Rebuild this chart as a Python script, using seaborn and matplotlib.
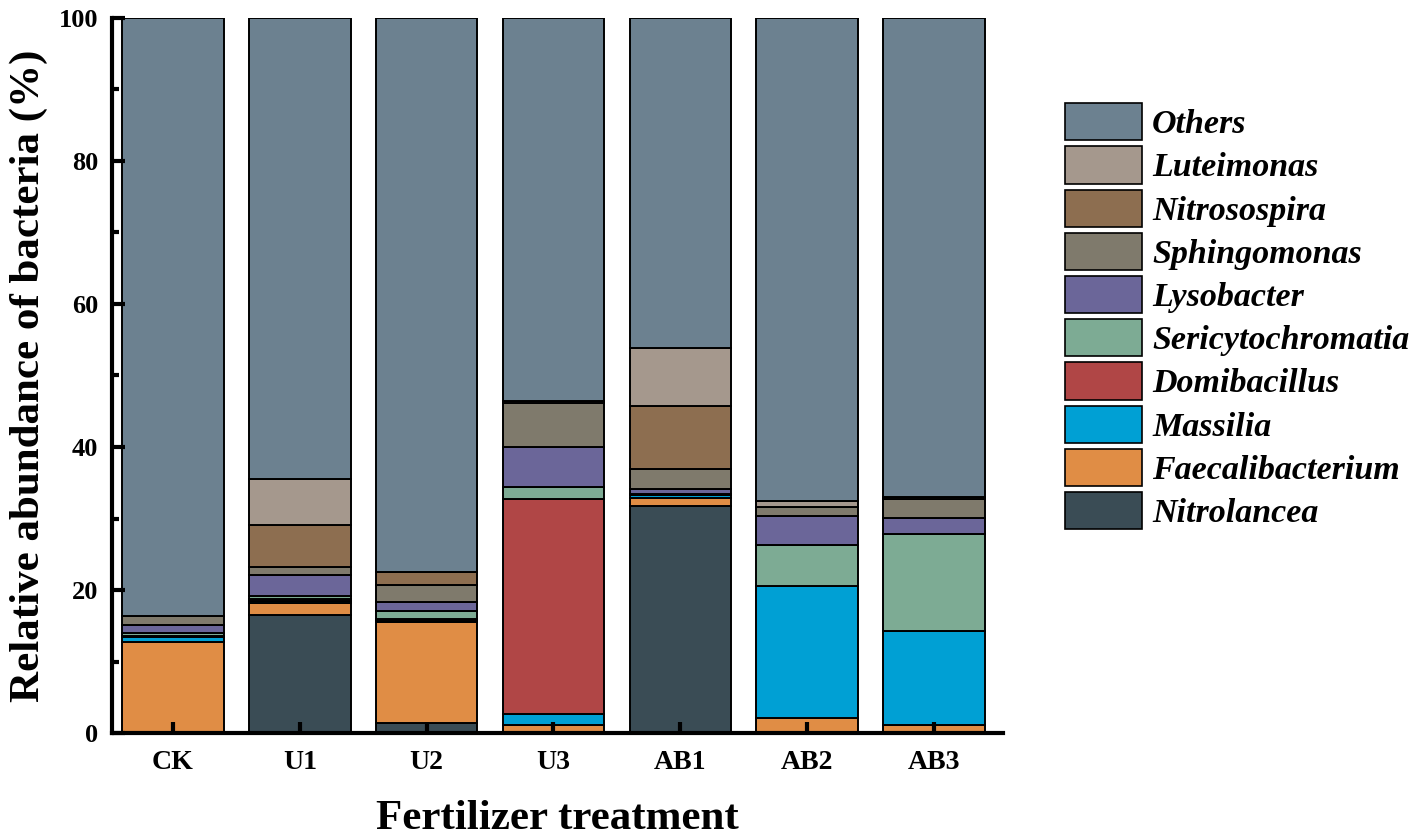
import numpy as np
import matplotlib
matplotlib.use("Agg")
from matplotlib import pyplot
from matplotlib.patches import Patch
import matplotlib.ticker as ticker
import seaborn as sns

# treatments along the x axis
treatments = ['CK', 'U1', 'U2', 'U3', 'AB1', 'AB2', 'AB3']

# relative abundance (%) per genus (bottom -> top)
nitrolancea       = [0.0, 16.5,  1.4,  0.0, 31.7,  0.0,  0.0]
faecalibacterium  = [12.7, 1.7, 14.2,  1.2,  1.2,  2.2,  1.1]
massilia          = [0.8,  0.3,  0.1,  1.5,  0.4, 18.4, 13.2]
domibacillus      = [0.1,  0.3,  0.2, 30.0,  0.0,  0.0,  0.0]
sericytochromatia = [0.4,  0.4,  1.2,  1.7,  0.2,  5.7, 13.6]
lysobacter        = [1.1,  2.9,  1.2,  5.6,  0.7,  4.0,  2.2]
sphingomonas      = [1.3,  1.1,  2.4,  6.2,  2.7,  1.3,  2.7]
nitrosospira      = [0.0,  5.9,  1.9,  0.2,  8.9,  0.0,  0.2]
luteimonas        = [0.0,  6.4,  0.0,  0.0,  8.1,  0.8,  0.0]
others            = [83.6, 64.5, 77.4, 53.6, 46.1, 67.6, 67.0]

genera = ['Nitrolancea', 'Faecalibacterium', 'Massilia', 'Domibacillus',
          'Sericytochromatia', 'Lysobacter', 'Sphingomonas', 'Nitrosospira',
          'Luteimonas', 'Others']
series = [nitrolancea, faecalibacterium, massilia, domibacillus,
          sericytochromatia, lysobacter, sphingomonas, nitrosospira,
          luteimonas, others]
colors = ['#3a4c55', '#e08d45', '#00a0d4', '#b04646', '#7dab94',
          '#6b6699', '#7f7a6c', '#8d6e50', '#a5988d', '#6c8190']

sns.set_style("ticks")
pyplot.rcParams['font.family'] = ['Liberation Serif', 'DejaVu Serif']
pyplot.rcParams['font.weight'] = 'bold'
pyplot.rcParams['text.color'] = 'black'
pyplot.rcParams['axes.labelcolor'] = 'black'
pyplot.rcParams['xtick.color'] = 'black'
pyplot.rcParams['ytick.color'] = 'black'

fig = pyplot.figure(figsize=(14.18, 8.39), dpi=100)
ax = fig.add_axes([0.079, 0.126, 0.628, 0.853])

bottom = np.zeros(len(treatments))
for name, vals, col in zip(genera, series, colors):
    sns.barplot(x=treatments, y=vals, bottom=bottom, color=col, width=0.8,
                edgecolor='black', linewidth=1.4, saturation=1, ax=ax)
    bottom = bottom + np.array(vals)

ax.set_axisbelow(False)
ax.set_ylim(0, 100)
ax.set_xlim(-0.48, 6.54)
sns.despine(ax=ax)
for side in ['left', 'bottom']:
    ax.spines[side].set_linewidth(3)
    ax.spines[side].set_color('black')
    ax.spines[side].set_zorder(5)

ax.yaxis.set_major_locator(ticker.MultipleLocator(20))
ax.yaxis.set_minor_locator(ticker.MultipleLocator(10))
ax.tick_params(axis='y', which='major', direction='in', length=9, width=3,
               labelsize=19, pad=10)
ax.tick_params(axis='y', which='minor', direction='in', length=5, width=3)
ax.tick_params(axis='x', which='major', direction='in', length=8, width=3,
               labelsize=20, pad=12)
for lab in ax.get_xticklabels() + ax.get_yticklabels():
    lab.set_fontweight('bold')

ax.set_xlabel('Fertilizer treatment', fontsize=31, fontweight='bold', labelpad=18)
ax.set_ylabel('Relative abundance of bacteria (%)', fontsize=31,
              fontweight='bold', labelpad=8)

handles = [Patch(facecolor=c, edgecolor='black', linewidth=1.2, label=g)
           for g, c in zip(genera, colors)][::-1]
fig.legend(handles=handles, loc='upper left', bbox_to_anchor=(0.751, 0.877),
           frameon=False, borderpad=0, borderaxespad=0, handlelength=2.26,
           handleheight=1.3, labelspacing=0.18, handletextpad=0.3,
           prop={'family': 'Liberation Serif', 'weight': 'bold',
                 'style': 'italic', 'size': 24.5})

fig.savefig('out.png', dpi=100)
